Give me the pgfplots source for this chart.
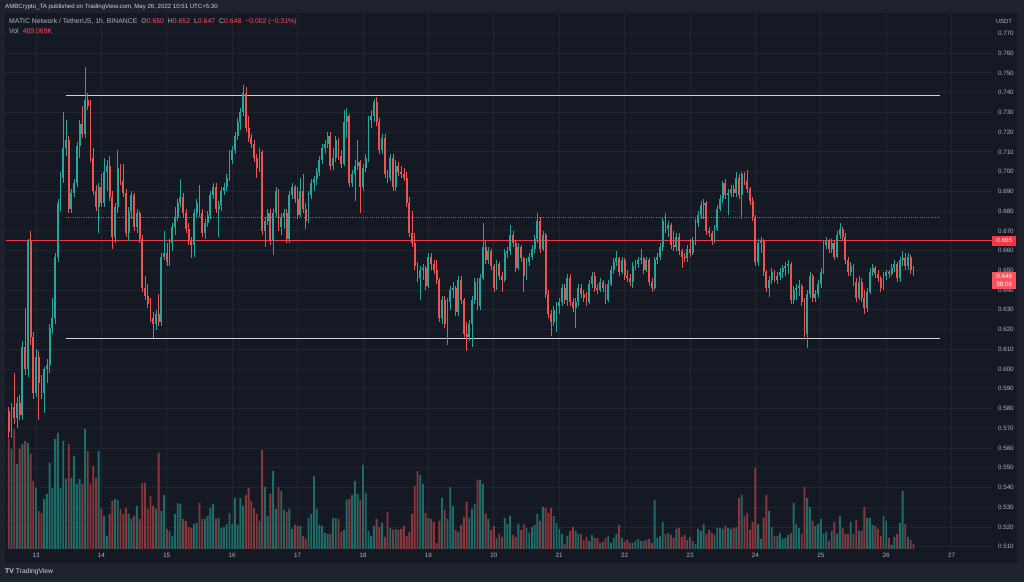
\documentclass[border=0pt]{standalone}
\usepackage{fontspec}
\setmainfont{Liberation Sans}
\usepackage{pgfplots}
\usepackage{pgfplotstable}
\pgfplotsset{compat=1.18}

\definecolor{outerbg}{HTML}{1E222D}
\definecolor{panelbg}{HTML}{151924}
\definecolor{gridc}{HTML}{20242E}
\definecolor{upc}{HTML}{26A69A}
\definecolor{downc}{HTML}{EF5350}
\definecolor{volup}{HTML}{1F6B67}
\definecolor{voldown}{HTML}{8A373B}
\definecolor{txt}{HTML}{B2B5BE}
\definecolor{hdr}{HTML}{D1D4DC}
\definecolor{wline}{HTML}{D1D4DC}
\definecolor{rline}{HTML}{F23645}
\definecolor{lblred}{HTML}{F7525F}
\definecolor{dotc}{HTML}{7F7A42}

\pgfplotsset{
  candle/.style={only marks, mark=*, mark size=0pt, mark options={draw=none, fill=none},
    error bars/.cd, y dir=minus, y explicit, error mark=none},
}

\pgfplotstableread{
t o h l c v
-10 0.579 0.581 0.565 0.568 11.0
-9 0.568 0.583 0.565 0.581 10.0
-8 0.581 0.598 0.572 0.575 12.0
-7 0.575 0.586 0.570 0.583 8.5
-6 0.583 0.587 0.574 0.577 10.0
-5 0.577 0.614 0.574 0.611 10.5
-4 0.611 0.631 0.597 0.600 10.8
-3 0.600 0.666 0.596 0.665 10.6
-2 0.665 0.670 0.612 0.616 9.5
-1 0.616 0.619 0.585 0.588 6.8
0 0.588 0.610 0.586 0.606 6.1
1 0.606 0.609 0.574 0.593 3.8
2 0.593 0.597 0.585 0.588 3.6
3 0.588 0.601 0.578 0.600 5.0
4 0.600 0.605 0.593 0.602 5.5
5 0.602 0.623 0.598 0.621 8.6
6 0.621 0.636 0.618 0.626 6.1
7 0.626 0.659 0.623 0.657 11.0
8 0.657 0.686 0.654 0.684 11.6
9 0.684 0.700 0.680 0.697 6.1
10 0.697 0.730 0.694 0.712 10.8
11 0.712 0.726 0.708 0.716 7.0
12 0.716 0.718 0.679 0.681 10.5
13 0.681 0.691 0.679 0.689 7.1
14 0.689 0.696 0.687 0.694 9.3
15 0.694 0.715 0.692 0.713 6.5
16 0.713 0.726 0.707 0.724 7.0
17 0.724 0.733 0.717 0.719 6.5
18 0.719 0.753 0.717 0.736 12.0
19 0.736 0.740 0.731 0.733 9.8
20 0.733 0.736 0.705 0.707 6.5
21 0.707 0.712 0.688 0.690 8.3
22 0.690 0.693 0.680 0.682 7.1
23 0.682 0.694 0.669 0.692 9.8
24 0.692 0.699 0.682 0.684 4.0
25 0.684 0.707 0.682 0.700 3.3
26 0.700 0.706 0.690 0.703 1.3
27 0.703 0.708 0.685 0.687 3.5
28 0.687 0.690 0.661 0.667 4.8
29 0.667 0.684 0.664 0.682 5.0
30 0.682 0.711 0.679 0.702 4.9
31 0.702 0.704 0.693 0.695 4.0
32 0.695 0.704 0.687 0.689 3.5
33 0.689 0.691 0.667 0.669 4.1
34 0.669 0.682 0.665 0.680 3.5
35 0.680 0.690 0.676 0.688 3.0
36 0.688 0.689 0.670 0.672 3.3
37 0.672 0.681 0.669 0.679 4.3
38 0.679 0.680 0.664 0.666 3.0
39 0.666 0.668 0.639 0.641 6.6
40 0.641 0.647 0.635 0.637 6.6
41 0.637 0.643 0.631 0.633 4.0
42 0.633 0.636 0.624 0.626 5.3
43 0.626 0.629 0.6155 0.623 4.3
44 0.623 0.630 0.620 0.628 4.0
45 0.628 0.638 0.622 0.624 9.6
46 0.624 0.659 0.622 0.657 3.8
47 0.657 0.670 0.655 0.659 5.4
48 0.659 0.664 0.652 0.654 2.0
49 0.654 0.666 0.652 0.664 1.8
50 0.664 0.674 0.660 0.672 1.3
51 0.672 0.682 0.668 0.677 3.5
52 0.677 0.686 0.675 0.684 4.6
53 0.684 0.696 0.682 0.687 4.5
54 0.687 0.689 0.677 0.679 3.0
55 0.679 0.681 0.669 0.671 2.8
56 0.671 0.674 0.663 0.665 2.2
57 0.665 0.667 0.656 0.663 2.1
58 0.663 0.681 0.657 0.679 2.5
59 0.679 0.686 0.677 0.684 2.6
60 0.684 0.693 0.677 0.679 4.6
61 0.679 0.681 0.667 0.669 3.0
62 0.669 0.676 0.666 0.674 3.0
63 0.674 0.680 0.672 0.678 3.3
64 0.678 0.690 0.676 0.688 4.1
65 0.688 0.694 0.686 0.692 4.5
66 0.692 0.694 0.679 0.681 3.0
67 0.681 0.685 0.667 0.683 3.1
68 0.683 0.692 0.680 0.690 2.1
69 0.690 0.694 0.688 0.692 2.2
70 0.692 0.699 0.690 0.697 2.5
71 0.697 0.711 0.695 0.706 3.6
72 0.706 0.713 0.704 0.711 2.5
73 0.711 0.720 0.709 0.718 5.1
74 0.718 0.727 0.716 0.725 2.4
75 0.725 0.732 0.721 0.730 5.1
76 0.730 0.744 0.728 0.740 4.3
77 0.740 0.743 0.720 0.722 5.4
78 0.722 0.728 0.715 0.717 6.1
79 0.717 0.719 0.712 0.714 4.8
80 0.714 0.716 0.705 0.707 4.1
81 0.707 0.709 0.697 0.702 3.5
82 0.702 0.712 0.700 0.710 2.8
83 0.710 0.711 0.668 0.670 9.9
84 0.670 0.677 0.662 0.675 6.2
85 0.675 0.681 0.673 0.679 3.3
86 0.679 0.681 0.663 0.665 5.5
87 0.665 0.681 0.658 0.679 7.8
88 0.679 0.692 0.677 0.690 4.0
89 0.690 0.691 0.670 0.672 6.2
90 0.672 0.679 0.668 0.677 5.8
91 0.677 0.681 0.671 0.679 3.9
92 0.679 0.681 0.664 0.666 3.7
93 0.666 0.690 0.664 0.688 4.0
94 0.688 0.694 0.686 0.692 2.0
95 0.692 0.693 0.684 0.686 2.4
96 0.686 0.692 0.676 0.678 2.3
97 0.678 0.697 0.677 0.690 2.3
98 0.690 0.699 0.679 0.681 1.3
99 0.681 0.684 0.671 0.675 1.0
100 0.675 0.690 0.674 0.688 3.1
101 0.688 0.696 0.686 0.694 3.5
102 0.694 0.698 0.690 0.696 7.3
103 0.696 0.702 0.693 0.700 4.0
104 0.700 0.708 0.698 0.706 2.4
105 0.706 0.714 0.704 0.712 2.3
106 0.712 0.716 0.709 0.714 1.6
107 0.714 0.720 0.712 0.718 1.5
108 0.718 0.720 0.701 0.703 1.5
109 0.703 0.712 0.701 0.707 3.1
110 0.707 0.718 0.705 0.716 3.1
111 0.716 0.717 0.706 0.708 3.0
112 0.708 0.711 0.702 0.704 1.7
113 0.704 0.731 0.703 0.725 1.9
114 0.725 0.732 0.717 0.728 4.9
115 0.728 0.729 0.692 0.694 5.0
116 0.694 0.701 0.692 0.699 5.4
117 0.699 0.706 0.685 0.703 6.8
118 0.703 0.716 0.701 0.705 5.5
119 0.705 0.706 0.679 0.692 4.9
120 0.692 0.704 0.690 0.702 8.4
121 0.702 0.709 0.700 0.707 5.6
122 0.707 0.728 0.705 0.726 1.8
123 0.726 0.731 0.722 0.728 1.3
124 0.728 0.737 0.725 0.735 2.3
125 0.735 0.738 0.723 0.725 3.0
126 0.725 0.727 0.709 0.711 2.2
127 0.711 0.719 0.709 0.717 2.6
128 0.717 0.719 0.697 0.699 1.2
129 0.699 0.701 0.694 0.697 3.7
130 0.697 0.709 0.695 0.707 2.1
131 0.707 0.709 0.690 0.692 1.9
132 0.692 0.706 0.690 0.703 2.0
133 0.703 0.705 0.698 0.700 1.9
134 0.700 0.703 0.697 0.699 2.0
135 0.699 0.702 0.695 0.697 2.3
136 0.697 0.700 0.682 0.684 1.3
137 0.684 0.687 0.667 0.669 1.7
138 0.669 0.680 0.662 0.664 3.5
139 0.664 0.669 0.650 0.652 6.3
140 0.652 0.654 0.644 0.646 7.8
141 0.646 0.652 0.635 0.650 7.4
142 0.650 0.653 0.645 0.651 6.5
143 0.651 0.652 0.640 0.642 3.6
144 0.642 0.659 0.641 0.657 3.1
145 0.657 0.659 0.650 0.653 3.0
146 0.653 0.655 0.648 0.650 2.7
147 0.650 0.655 0.643 0.645 0.6
148 0.645 0.646 0.624 0.626 2.8
149 0.626 0.637 0.623 0.635 5.1
150 0.635 0.637 0.621 0.623 3.9
151 0.623 0.636 0.612 0.634 3.0
152 0.634 0.642 0.630 0.640 6.2
153 0.640 0.644 0.636 0.641 4.3
154 0.641 0.642 0.627 0.629 1.9
155 0.629 0.647 0.627 0.645 1.7
156 0.645 0.647 0.633 0.635 2.4
157 0.635 0.636 0.616 0.618 3.2
158 0.618 0.624 0.609 0.616 4.7
159 0.616 0.625 0.614 0.623 3.1
160 0.623 0.637 0.611 0.635 4.0
161 0.635 0.646 0.633 0.644 4.5
162 0.644 0.646 0.630 0.632 6.9
163 0.632 0.648 0.630 0.646 6.9
164 0.646 0.674 0.645 0.662 6.5
165 0.662 0.665 0.653 0.655 3.5
166 0.655 0.662 0.653 0.660 3.0
167 0.660 0.661 0.650 0.652 1.9
168 0.652 0.653 0.639 0.641 2.3
169 0.641 0.655 0.640 0.653 1.1
170 0.653 0.654 0.645 0.647 1.5
171 0.647 0.649 0.639 0.645 1.2
172 0.645 0.661 0.644 0.659 3.1
173 0.659 0.662 0.656 0.660 2.5
174 0.660 0.673 0.658 0.668 3.3
175 0.668 0.670 0.662 0.664 1.4
176 0.664 0.665 0.649 0.651 1.2
177 0.651 0.664 0.650 0.662 2.5
178 0.662 0.663 0.654 0.656 1.9
179 0.656 0.657 0.639 0.647 2.5
180 0.647 0.656 0.645 0.654 2.1
181 0.654 0.659 0.652 0.657 1.6
182 0.657 0.663 0.655 0.661 2.2
183 0.661 0.668 0.659 0.666 2.4
184 0.666 0.679 0.664 0.675 3.5
185 0.675 0.677 0.659 0.661 2.8
186 0.661 0.670 0.660 0.668 4.2
187 0.668 0.669 0.636 0.638 4.1
188 0.638 0.640 0.626 0.628 3.6
189 0.628 0.630 0.617 0.624 4.1
190 0.624 0.632 0.622 0.630 3.3
191 0.630 0.634 0.619 0.632 2.6
192 0.632 0.636 0.628 0.634 2.0
193 0.634 0.643 0.632 0.641 1.5
194 0.641 0.643 0.633 0.635 0.5
195 0.635 0.648 0.632 0.646 1.3
196 0.646 0.648 0.632 0.634 1.8
197 0.634 0.636 0.629 0.631 2.2
198 0.631 0.636 0.621 0.634 1.8
199 0.634 0.643 0.632 0.641 1.5
200 0.641 0.643 0.636 0.638 1.5
201 0.638 0.640 0.634 0.636 0.9
202 0.636 0.639 0.632 0.634 1.2
203 0.634 0.645 0.633 0.643 0.8
204 0.643 0.649 0.641 0.647 1.4
205 0.647 0.649 0.639 0.641 1.1
206 0.641 0.643 0.638 0.640 1.1
207 0.640 0.646 0.639 0.644 0.6
208 0.644 0.645 0.639 0.641 0.7
209 0.641 0.643 0.633 0.635 1.1
210 0.635 0.645 0.634 0.643 1.3
211 0.643 0.652 0.642 0.650 0.6
212 0.650 0.656 0.648 0.654 1.1
213 0.654 0.660 0.652 0.656 1.5
214 0.656 0.657 0.647 0.649 2.4
215 0.649 0.657 0.648 0.655 1.1
216 0.655 0.656 0.645 0.647 0.7
217 0.647 0.650 0.644 0.646 0.9
218 0.646 0.648 0.642 0.644 0.6
219 0.644 0.654 0.641 0.652 0.6
220 0.652 0.655 0.650 0.653 0.8
221 0.653 0.657 0.651 0.655 1.0
222 0.655 0.661 0.653 0.656 0.8
223 0.656 0.657 0.648 0.650 0.8
224 0.650 0.657 0.649 0.655 0.9
225 0.655 0.656 0.642 0.644 1.0
226 0.644 0.646 0.639 0.641 0.6
227 0.641 0.657 0.640 0.655 4.9
228 0.655 0.659 0.653 0.657 1.1
229 0.657 0.664 0.655 0.662 1.3
230 0.662 0.677 0.660 0.675 2.7
231 0.675 0.679 0.669 0.671 1.5
232 0.671 0.675 0.667 0.673 1.6
233 0.673 0.674 0.661 0.663 1.4
234 0.663 0.670 0.660 0.662 1.1
235 0.662 0.669 0.660 0.667 2.0
236 0.667 0.669 0.658 0.660 2.1
237 0.660 0.661 0.651 0.657 1.2
238 0.657 0.659 0.654 0.656 1.4
239 0.656 0.663 0.654 0.661 0.9
240 0.661 0.666 0.657 0.659 1.2
241 0.659 0.667 0.658 0.665 0.8
242 0.665 0.676 0.663 0.674 0.5
243 0.674 0.680 0.672 0.678 2.0
244 0.678 0.685 0.676 0.683 1.8
245 0.683 0.686 0.676 0.684 2.5
246 0.684 0.685 0.668 0.670 1.5
247 0.670 0.672 0.667 0.669 1.9
248 0.669 0.670 0.663 0.665 1.6
249 0.665 0.673 0.664 0.671 1.4
250 0.671 0.683 0.670 0.681 2.1
251 0.681 0.688 0.680 0.686 2.1
252 0.686 0.695 0.684 0.694 2.0
253 0.694 0.696 0.686 0.688 2.3
254 0.688 0.691 0.678 0.689 2.1
255 0.689 0.693 0.687 0.691 2.0
256 0.691 0.693 0.687 0.689 2.1
257 0.689 0.700 0.687 0.697 2.2
258 0.697 0.699 0.686 0.688 5.1
259 0.688 0.700 0.676 0.699 5.4
260 0.699 0.700 0.693 0.695 3.3
261 0.695 0.701 0.689 0.691 3.6
262 0.691 0.692 0.683 0.685 1.9
263 0.685 0.687 0.675 0.677 2.7
264 0.677 0.678 0.652 0.654 8.1
265 0.654 0.666 0.652 0.664 2.5
266 0.664 0.667 0.659 0.665 1.0
267 0.665 0.666 0.647 0.649 3.1
268 0.649 0.650 0.639 0.641 5.4
269 0.641 0.647 0.6365 0.645 3.8
270 0.645 0.651 0.643 0.649 2.2
271 0.649 0.650 0.644 0.645 1.3
272 0.645 0.649 0.643 0.647 1.3
273 0.647 0.651 0.645 0.649 1.6
274 0.649 0.6526 0.646 0.651 1.0
275 0.651 0.654 0.647 0.652 1.1
276 0.652 0.655 0.648 0.653 1.4
277 0.653 0.654 0.633 0.635 1.6
278 0.635 0.642 0.633 0.640 4.6
279 0.640 0.643 0.635 0.641 2.5
280 0.641 0.645 0.637 0.642 2.1
281 0.642 0.643 0.632 0.634 1.5
282 0.634 0.636 0.616 0.618 6.2
283 0.618 0.640 0.6107 0.638 5.1
284 0.638 0.649 0.636 0.647 4.2
285 0.647 0.648 0.634 0.636 2.8
286 0.636 0.640 0.634 0.638 2.3
287 0.638 0.645 0.636 0.643 2.5
288 0.643 0.651 0.641 0.649 3.0
289 0.649 0.665 0.648 0.663 1.5
290 0.663 0.667 0.661 0.665 1.7
291 0.665 0.666 0.659 0.661 0.8
292 0.661 0.666 0.659 0.664 1.8
293 0.664 0.665 0.655 0.657 2.7
294 0.657 0.670 0.656 0.668 1.5
295 0.668 0.674 0.666 0.671 3.3
296 0.671 0.672 0.665 0.667 2.1
297 0.667 0.669 0.653 0.655 1.5
298 0.655 0.657 0.647 0.649 1.5
299 0.649 0.654 0.647 0.652 2.7
300 0.652 0.653 0.642 0.644 1.5
301 0.644 0.646 0.634 0.636 2.9
302 0.636 0.647 0.635 0.644 1.8
303 0.644 0.646 0.634 0.636 1.8
304 0.636 0.640 0.628 0.631 4.2
305 0.631 0.641 0.629 0.639 3.1
306 0.639 0.651 0.638 0.649 3.1
307 0.649 0.653 0.647 0.651 2.4
308 0.651 0.652 0.646 0.648 2.3
309 0.648 0.650 0.644 0.646 2.0
310 0.646 0.647 0.639 0.641 1.3
311 0.641 0.649 0.640 0.647 3.3
312 0.647 0.650 0.645 0.649 2.8
313 0.649 0.650 0.646 0.648 1.1
314 0.648 0.653 0.647 0.651 0.4
315 0.651 0.655 0.649 0.653 1.2
316 0.653 0.654 0.644 0.646 1.5
317 0.646 0.657 0.644 0.655 2.6
318 0.655 0.660 0.652 0.656 5.8
319 0.656 0.659 0.650 0.652 2.5
320 0.652 0.659 0.650 0.657 1.2
321 0.657 0.658 0.648 0.650 0.9
322 0.650 0.652 0.647 0.648 0.489
}\candles

% x position of rising candles (tu) and of falling candles (td); nan elsewhere
\pgfplotstablecreatecol[
  create col/assign/.code={%
    \getthisrow{c}\cval\getthisrow{o}\oval\getthisrow{t}\tval
    \ifdim\cval pt<\oval pt\def\entry{nan}\else\let\entry\tval\fi
    \pgfkeyslet{/pgfplots/table/create col/next content}\entry}
]{tu}{\candles}
\pgfplotstablecreatecol[
  create col/assign/.code={%
    \getthisrow{c}\cval\getthisrow{o}\oval\getthisrow{t}\tval
    \ifdim\cval pt<\oval pt\let\entry\tval\else\def\entry{nan}\fi
    \pgfkeyslet{/pgfplots/table/create col/next content}\entry}
]{td}{\candles}

\begin{document}
\begin{tikzpicture}
\fill[outerbg] (0,0) rectangle (1024bp,582bp);
\useasboundingbox (0,0) rectangle (1024bp,582bp);
\fill[panelbg] (5bp,19bp) rectangle (1017bp,569bp);

% axis A: grid and tick labels
\begin{axis}[
  at={(6bp,33bp)}, anchor=south west, scale only axis,
  width=986bp, height=535bp,
  xmin=-11.01, xmax=350.83, ymin=0.5089, ymax=0.7798,
  axis line style={draw=none}, major tick length=0pt,
  xtick={0,24,48,72,96,120,144,168,192,216,240,264,288,312,336},
  xticklabels={13,14,15,16,17,18,19,20,21,22,23,24,25,26,27},
  ytick={0.51,0.52,0.53,0.54,0.55,0.56,0.57,0.58,0.59,0.60,0.61,0.62,0.63,0.64,0.65,0.66,0.67,0.68,0.69,0.70,0.71,0.72,0.73,0.74,0.75,0.76,0.77},
  scaled y ticks=false,
  grid=major, major grid style={gridc, line width=0.7bp},
  yticklabel pos=right,
  xticklabel style={font=\fontsize{6.3}{7}\selectfont, text=txt, yshift=-0.5bp},
  yticklabel style={font=\fontsize{6.3}{7}\selectfont, text=txt, anchor=west, xshift=2.5bp,
     /pgf/number format/.cd, fixed, fixed zerofill, precision=3, assume math mode=true},
]
\end{axis}

% axis B: volume
\begin{axis}[
  at={(6bp,33bp)}, anchor=south west, scale only axis,
  width=986bp, height=535bp,
  xmin=-11.01, xmax=350.83, ymin=0, ymax=53.5,
  hide axis,
]
\addplot[ybar, bar width=1.9bp, bar shift=0pt, fill=volup, draw=none]
  table[x=tu, y=v] {\candles};
\addplot[ybar, bar width=1.9bp, bar shift=0pt, fill=voldown, draw=none]
  table[x=td, y=v] {\candles};
\end{axis}

% axis C: price data
\begin{axis}[
  at={(6bp,33bp)}, anchor=south west, scale only axis,
  width=986bp, height=535bp,
  xmin=-11.01, xmax=350.83, ymin=0.5089, ymax=0.7798,
  hide axis, clip=false,
]
\addplot[dotc, line width=0.9bp, dash pattern=on 1bp off 1.2bp] coordinates {(11,0.677) (331.7,0.677)};
\addplot[wline, line width=1bp] coordinates {(11,0.7386) (331.7,0.7386)};
\addplot[wline, line width=1bp] coordinates {(11,0.6156) (331.7,0.6156)};
\addplot[rline, line width=1bp] coordinates {(-11.01,0.665) (350.83,0.665)};
% wicks
\addplot[candle, error bar style={draw=upc, line width=0.6bp}]
  table[x=tu, y=h, y error minus expr=\thisrow{h}-\thisrow{l}] {\candles};
\addplot[candle, error bar style={draw=downc, line width=0.6bp}]
  table[x=td, y=h, y error minus expr=\thisrow{h}-\thisrow{l}] {\candles};
% bodies
\addplot[candle, error bar style={draw=upc, line width=1.9bp}]
  table[x=tu, y=c, y error minus expr={max(\thisrow{c}-\thisrow{o},0.0004)}] {\candles};
\addplot[candle, error bar style={draw=downc, line width=1.9bp}]
  table[x=td, y=o, y error minus expr={max(\thisrow{o}-\thisrow{c},0.0004)}] {\candles};

\node[fill=rline, text=white, anchor=west, inner sep=0pt, minimum width=24bp, minimum height=10bp,
  font=\fontsize{6.3}{7}\selectfont] at (axis cs:350.83,0.665) {0.665};
\node[fill=lblred, text=white, anchor=north west, inner sep=0pt, minimum width=24bp, minimum height=17bp,
  align=center, font=\fontsize{6.3}{8}\selectfont] at (axis cs:350.83,0.6495) {0.648\\38:08};
\end{axis}

% header and footer texts
\node[anchor=west, inner sep=0pt, text=hdr, font=\fontsize{6.1}{7}\selectfont] at (5bp,575bp)
  {AMBCrypto\_TA published on TradingView.com, May 26, 2022 10:51 UTC+5:30};
\node[anchor=west, inner sep=0pt, text=txt, font=\fontsize{6.9}{8}\selectfont] at (9bp,560bp)
  {MATIC Network / TetherUS, 1h, BINANCE\hspace{4bp}O\textcolor{lblred}{0.650}\hspace{4bp}H\textcolor{lblred}{0.652}\hspace{4bp}L\textcolor{lblred}{0.647}\hspace{4bp}C\textcolor{lblred}{0.648}\hspace{4bp}\textcolor{lblred}{−0.002 (−0.31\%)}};
\node[anchor=west, inner sep=0pt, text=txt, font=\fontsize{6.9}{8}\selectfont] at (9bp,551bp)
  {Vol\hspace{4bp}\textcolor{lblred}{489.069K}};
\node[anchor=center, inner sep=0pt, text=txt, font=\fontsize{6}{7}\selectfont] at (1004bp,560.5bp) {USDT};
\node[anchor=west, inner sep=0pt, text=hdr, font=\fontsize{6.8}{8}\selectfont] at (5bp,10bp)
  {\textbf{TV}\hspace{2bp}TradingView};
\end{tikzpicture}
\end{document}
